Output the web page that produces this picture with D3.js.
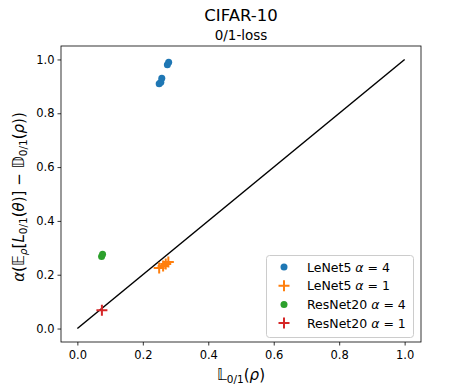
<!doctype html>
<html lang="en">
<head>
<meta charset="UTF-8">
<title>CIFAR-10 0/1-loss</title>
<script src="https://cdn.jsdelivr.net/npm/d3@7"></script>
<style>
  body { margin: 0; background: #fff; }
  svg { font-family: "DejaVu Sans", sans-serif; }
</style>
</head>
<body>
<script>
// data
var lenet4_x = [0.250, 0.255, 0.258, 0.275, 0.279];
var lenet4_y = [0.910, 0.915, 0.930, 0.980, 0.990];
var lenet1_x = [0.250, 0.262, 0.270, 0.278];
var lenet1_y = [0.225, 0.232, 0.240, 0.247];
var resnet4_x = [0.074, 0.077];
var resnet4_y = [0.268, 0.276];
var resnet1_x = [0.075];
var resnet1_y = [0.068];
var ticks = [0, 0.2, 0.4, 0.6, 0.8, 1.0];

var width = 467, height = 389;
var x0 = 61, x1 = 421, y0 = 46, y1 = 342;

var x_scale = d3.scaleLinear().domain([-0.05, 1.05]).range([x0, x1]);
var y_scale = d3.scaleLinear().domain([-0.05, 1.05]).range([y1, y0]);

var svg = d3.select("body").append("svg").attr("width", width).attr("height", height);

// diagonal
svg.append("line")
    .attr("x1", x_scale(0)).attr("y1", y_scale(0))
    .attr("x2", x_scale(1)).attr("y2", y_scale(1))
    .attr("stroke", "#000").attr("stroke-width", 1.5);

function pts(xs, ys) {
    return xs.map(function (d, i) { return [d, ys[i]]; });
}

function dots(data, color) {
    svg.append("g").selectAll("circle").data(data).enter().append("circle")
        .attr("cx", function (d) { return x_scale(d[0]); })
        .attr("cy", function (d) { return y_scale(d[1]); })
        .attr("r", 3.5).attr("fill", color);
}

function plus(g, cx, cy, color) {
    var s = 5.5;
    g.append("path")
        .attr("d", "M" + (cx - s) + "," + cy + "H" + (cx + s) + "M" + cx + "," + (cy - s) + "V" + (cy + s))
        .attr("stroke", color).attr("stroke-width", 2).attr("fill", "none");
}

function pluses(data, color) {
    var g = svg.append("g");
    data.forEach(function (d) { plus(g, x_scale(d[0]), y_scale(d[1]), color); });
}

dots(pts(lenet4_x, lenet4_y), "#1f77b4");
pluses(pts(lenet1_x, lenet1_y), "#ff7f0e");
dots(pts(resnet4_x, resnet4_y), "#2ca02c");
pluses(pts(resnet1_x, resnet1_y), "#d62728");

// axes
var xa = svg.append("g").attr("transform", "translate(0," + y1 + ")")
    .call(d3.axisBottom(x_scale).tickValues(ticks).tickFormat(d3.format(".1f")).tickSize(3.5).tickSizeOuter(0));
var ya = svg.append("g").attr("transform", "translate(" + x0 + ",0)")
    .call(d3.axisLeft(y_scale).tickValues(ticks).tickFormat(d3.format(".1f")).tickSize(3.5).tickSizeOuter(0));
[xa, ya].forEach(function (a) {
    a.select(".domain").remove();
    a.selectAll("text").attr("font-size", 11.5).attr("font-family", "DejaVu Sans").attr("fill", "#000");
    a.selectAll("line").attr("stroke", "#000").attr("stroke-width", 0.8);
});
xa.selectAll("text").attr("dy", "0.9em");

svg.append("rect").attr("x", x0).attr("y", y0).attr("width", x1 - x0).attr("height", y1 - y0)
    .attr("fill", "none").attr("stroke", "#000").attr("stroke-width", 0.8);

// titles
svg.append("text").attr("x", (x0 + x1) / 2).attr("y", 21).attr("text-anchor", "middle")
    .attr("font-size", 16.5).text("CIFAR-10");
svg.append("text").attr("x", (x0 + x1) / 2).attr("y", 40).attr("text-anchor", "middle")
    .attr("font-size", 13.5).text("0/1-loss");

// x label
var xl = svg.append("text").attr("x", (x0 + x1) / 2).attr("y", 380).attr("text-anchor", "middle")
    .attr("font-size", 15);
xl.append("tspan").text("\uD835\uDD43");
xl.append("tspan").attr("font-size", 10.5).attr("dy", 3).text("0/1");
xl.append("tspan").attr("dy", -3).text("(");
xl.append("tspan").attr("font-style", "italic").text("\u03C1");
xl.append("tspan").text(")");

// y label
var yl = svg.append("text").attr("transform", "translate(24," + ((y0 + y1) / 2 + 3) + ") rotate(-90)")
    .attr("text-anchor", "middle").attr("font-size", 15);
yl.append("tspan").attr("font-style", "italic").text("\u03B1");
yl.append("tspan").text("(\uD835\uDD3C");
yl.append("tspan").attr("font-size", 10.5).attr("dy", 3).attr("font-style", "italic").text("\u03C1");
yl.append("tspan").attr("dy", -3).text("[");
yl.append("tspan").attr("font-style", "italic").text("L");
yl.append("tspan").attr("font-size", 10.5).attr("dy", 3).text("0/1");
yl.append("tspan").attr("dy", -3).text("(");
yl.append("tspan").attr("font-style", "italic").text("\u03B8");
yl.append("tspan").text(")] \u2212 \uD835\uDD3B");
yl.append("tspan").attr("font-size", 10.5).attr("dy", 3).text("0/1");
yl.append("tspan").attr("dy", -3).text("(");
yl.append("tspan").attr("font-style", "italic").text("\u03C1");
yl.append("tspan").text("))");

// legend
var legend_labels = ["LeNet5", "LeNet5", "ResNet20", "ResNet20"];
var legend_alpha = ["4", "1", "4", "1"];
var legend_colors = ["#1f77b4", "#ff7f0e", "#2ca02c", "#d62728"];
var legend_kind = ["dot", "plus", "dot", "plus"];

var lg = svg.append("g");
lg.append("rect").attr("x", 266.5).attr("y", 255.5).attr("width", 147).attr("height", 82).attr("rx", 3)
    .attr("fill", "#fff").attr("fill-opacity", 0.8).attr("stroke", "#ccc").attr("stroke-width", 1);
legend_labels.forEach(function (lab, i) {
    var cy = 267 + i * 18.7;
    if (legend_kind[i] === "dot") {
        lg.append("circle").attr("cx", 284).attr("cy", cy).attr("r", 3.5).attr("fill", legend_colors[i]);
    } else {
        plus(lg, 284, cy, legend_colors[i]);
    }
    var t = lg.append("text").attr("x", 307).attr("y", cy + 4.5).attr("font-size", 12.5);
    t.append("tspan").text(lab + " ");
    t.append("tspan").attr("font-style", "italic").text("\u03B1");
    t.append("tspan").text(" = " + legend_alpha[i]);
});
</script>
</body>
</html>
